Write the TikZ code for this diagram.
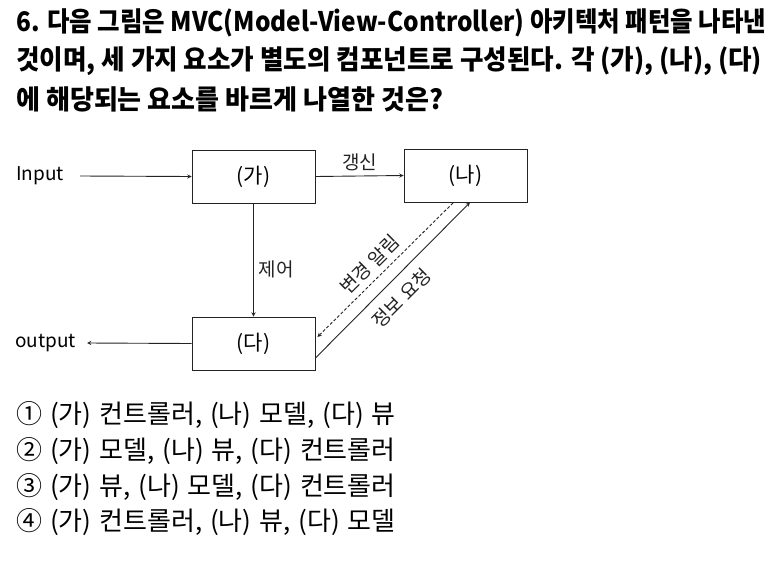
\documentclass[tikz,border=0pt]{standalone}
\usepackage{fontspec}
\setmainfont{Noto Sans CJK KR}
\newfontfamily\optfamily{Noto Sans CJK KR}[WordSpace=1.35]
\usepackage{tikz}
\usetikzlibrary{arrows,shapes,positioning}
\usepackage{xcolor}
\definecolor{mvcline}{RGB}{35,35,35}
\tikzstyle{arrow} = [line width=0.9pt,->,>=stealth,color=mvcline]
\tikzstyle{mvcbox} = [draw=mvcline, line width=0.9pt, minimum width=123pt, minimum height=53pt, inner sep=0pt, font=\fontsize{21}{21}\selectfont]
\tikzstyle{edgelabel} = [font=\fontsize{19}{19}\selectfont, inner sep=1pt]
\tikzstyle{qline} = [anchor=west, inner sep=0pt, font=\fontsize{27}{27}\selectfont\bfseries]
\tikzstyle{optline} = [anchor=west, inner sep=0pt, font=\optfamily\fontsize{26}{26}\selectfont]

\begin{document}
\begin{tikzpicture}[x=1pt, y=-1pt]
\useasboundingbox (0,0) rectangle (776,573);
% Question
\node[qline] (qline1) at (16,23) {\resizebox{750pt}{\height}{6. 다음 그림은 MVC(Model-View-Controller) 아키텍처 패턴을 나타낸}};
\node[qline] (qline2) at (16,61) {\resizebox{746pt}{\height}{것이며, 세 가지 요소가 별도의 컴포넌트로 구성된다. 각 (가), (나), (다)}};
\node[qline] (qline3) at (16,99) {\resizebox{427pt}{\height}{에 해당되는 요소를 바르게 나열한 것은?}};

% MVC components
\node[mvcbox] (ga) at (253.5,176.5) {(가)};
\node[mvcbox] (na) at (465.5,175.5) {(나)};
\node[mvcbox] (da) at (253.5,343.5) {(다)};
\node[anchor=west, inner sep=0pt, font=\fontsize{19}{19}\selectfont] (input) at (16,176) {Input};
\node[anchor=west, inner sep=0pt, font=\fontsize{19}{19}\selectfont] (output) at (15,343) {output};

% Connectors
\draw[arrow] ([xshift=16pt]input.east) -- (ga.west);
\draw[arrow] (da.west) -- ([xshift=11pt]output.east);
\draw[arrow] (ga.east) -- (na.west) node[edgelabel, midway, above=4pt] {갱신};
\draw[arrow] (ga.south) -- (da.north) node[edgelabel, pos=0.58, right=4pt] {제어};
\draw[arrow, dash pattern=on 3pt off 2pt, <-] ([xshift=2pt,yshift=6.5pt]da.east) -- ([xshift=-12pt]na.south)
  node[edgelabel, pos=0.46, sloped, above=5pt] {변경 알림};
\draw[arrow] ([yshift=-14.5pt]da.east) -- ([xshift=4.5pt]na.south)
  node[edgelabel, pos=0.47, sloped, below=9pt] {정보 요청};

% Choices
\node[optline] (opt1) at (16,415) {① (가) 컨트롤러, (나) 모델, (다) 뷰};
\node[optline] (opt2) at (16,451) {② (가) 모델, (나) 뷰, (다) 컨트롤러};
\node[optline] (opt3) at (16,487) {③ (가) 뷰, (나) 모델, (다) 컨트롤러};
\node[optline] (opt4) at (16,522) {④ (가) 컨트롤러, (나) 뷰, (다) 모델};
\end{tikzpicture}
\end{document}
